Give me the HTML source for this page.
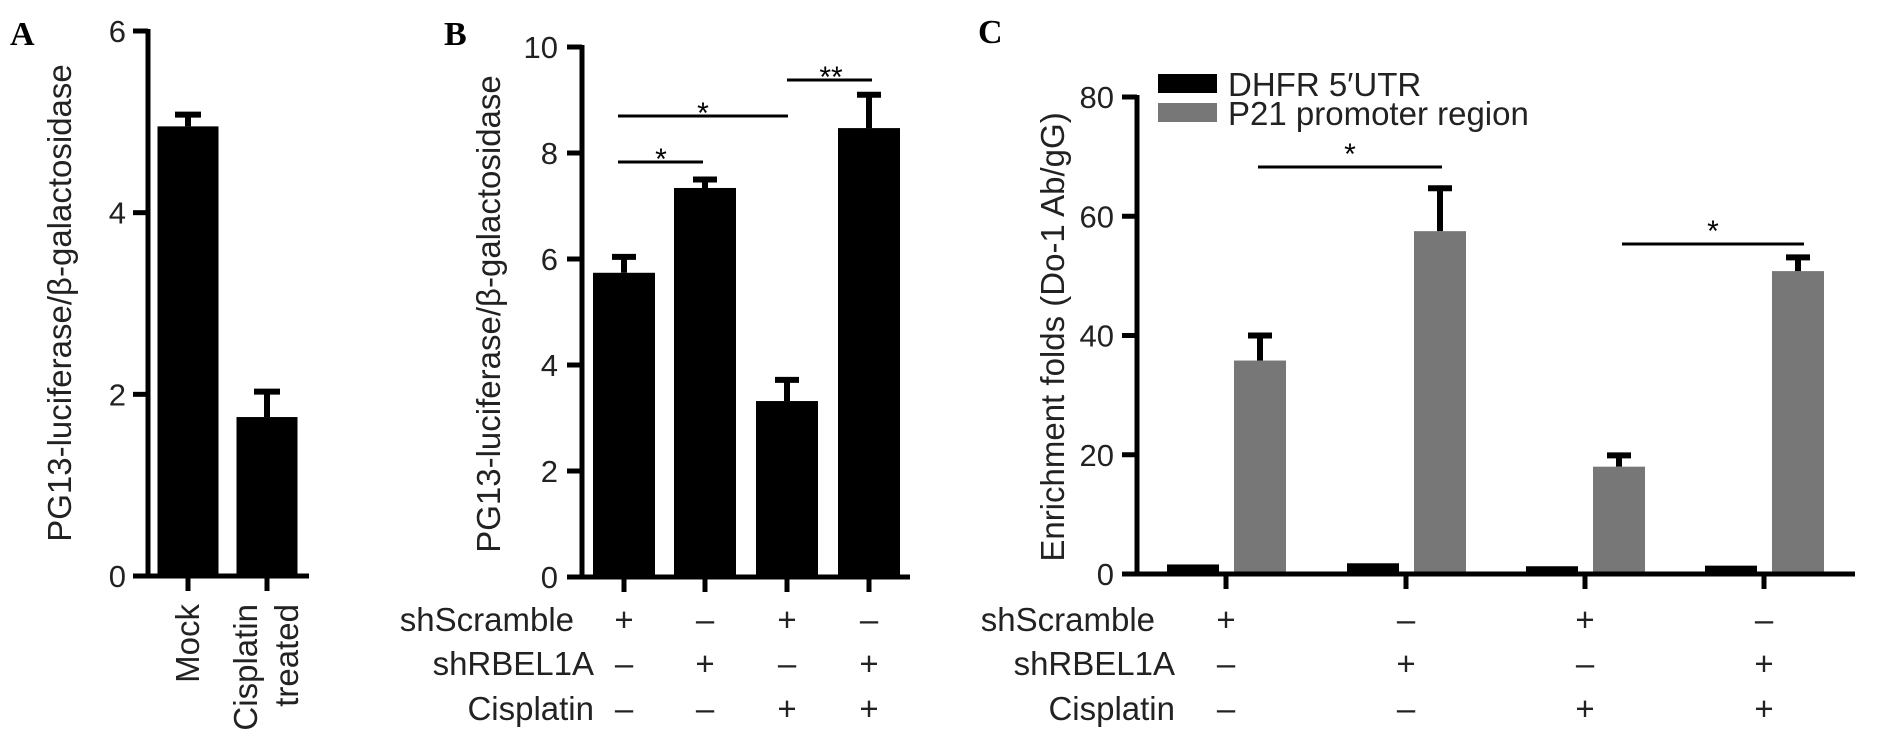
<!DOCTYPE html>
<html><head><meta charset="utf-8"><style>
html,body{margin:0;padding:0;background:#fff;}
svg{display:block;font-family:"Liberation Sans",Arial,sans-serif;}
</style></head><body>
<svg id="fig" width="1890" height="750" viewBox="0 0 1890 750" xmlns="http://www.w3.org/2000/svg"></svg>
<script>
// Panel A data
const aCats = ["Mock", "Cisplatin treated"];
const aVals = [4.95, 1.75];
const aErr = [0.13, 0.28];
const aTicks = [0, 2, 4, 6];
// Panel B data
const bVals = [5.74, 7.34, 3.32, 8.47];
const bErr = [0.3, 0.16, 0.4, 0.63];
const bTicks = [0, 2, 4, 6, 8, 10];
const rowLabels = ["shScramble", "shRBEL1A", "Cisplatin"];
const rowSigns = [["+","\u2013","+","\u2013"],["\u2013","+","\u2013","+"],["\u2013","\u2013","+","+"]];
// Panel C data
const cSeries = ["DHFR 5\u2032UTR", "P21 promoter region"];
const cDhfr = [1.6, 1.8, 1.3, 1.4];
const cP21 = [35.8, 57.5, 18.0, 50.8];
const cP21Err = [4.2, 7.2, 1.9, 2.3];
const cTicks = [0, 20, 40, 60, 80];

const FS = 33;
const svg = document.getElementById('fig');
const NS = 'http://www.w3.org/2000/svg';
function el(tag, attrs, parent) {
  const e = document.createElementNS(NS, tag);
  for (const k in attrs) e.setAttribute(k, attrs[k]);
  (parent || svg).appendChild(e);
  return e;
}
function txt(s, attrs, parent) { const t = el('text', attrs, parent); t.textContent = s; return t; }

// ---------- Panel A ----------
const gA = el('g', {});


const aY = v => 576 - v * (545 / 6);
const aX = [188, 267];
const aBarW = 61;
let t = txt('A', {x: 10, y: 45, 'font-family': '"Liberation Serif",serif', 'font-weight': 'bold', 'font-size': 34}, gA);


aVals.forEach((v, i) => {
  const r = el('rect', {x: aX[i] - aBarW/2, y: aY(v), width: aBarW, height: aY(0) - aY(v), fill: '#000'}, gA);
  
  
  const ey = aY(v + aErr[i]);
  const e = el('path', {d: `M${aX[i]} ${aY(v)} V${ey} M${aX[i]-13} ${ey} H${aX[i]+13}`, stroke: '#000', 'stroke-width': 6, fill: 'none'}, gA);
  
  
  el('line', {x1: aX[i], y1: 576, x2: aX[i], y2: 591, stroke: '#000', 'stroke-width': 5}, gA);
});
el('line', {x1: 148, y1: aY(6) - 2, x2: 148, y2: 578, stroke: '#000', 'stroke-width': 5}, gA);
el('line', {x1: 133, y1: 576, x2: 309, y2: 576, stroke: '#000', 'stroke-width': 5}, gA);
aTicks.forEach(v => {
  el('line', {x1: 133, y1: aY(v), x2: 148, y2: aY(v), stroke: '#000', 'stroke-width': 5}, gA);
  const tl = txt(String(v), {x: 126, y: aY(v) + 11, 'text-anchor': 'end', 'font-size': 31, fill: '#222'}, gA);
  
  
});
t = txt('PG13-luciferase/\u03b2-galactosidase', {transform: 'translate(71,303) rotate(-90)', 'text-anchor': 'middle', 'font-size': FS, fill: '#222'}, gA);


t = txt('Mock', {transform: 'translate(199,604) rotate(-90)', 'text-anchor': 'end', 'font-size': FS, fill: '#222'}, gA);


t = txt('Cisplatin', {transform: 'translate(257,604) rotate(-90)', 'text-anchor': 'end', 'font-size': FS, fill: '#222'}, gA);


t = txt('treated', {transform: 'translate(298,604) rotate(-90)', 'text-anchor': 'end', 'font-size': FS, fill: '#222'}, gA);



// ---------- Panel B ----------
const gB = el('g', {});


const bY = v => 577 - v * 53;
const bX = [624, 705, 787, 869];
const bBarW = 62;
t = txt('B', {x: 444, y: 45, 'font-family': '"Liberation Serif",serif', 'font-weight': 'bold', 'font-size': 34}, gB);


bVals.forEach((v, i) => {
  const r = el('rect', {x: bX[i] - bBarW/2, y: bY(v), width: bBarW, height: bY(0) - bY(v), fill: '#000'}, gB);
  
  
  const ey = bY(v + bErr[i]);
  const e = el('path', {d: `M${bX[i]} ${bY(v)} V${ey} M${bX[i]-12} ${ey} H${bX[i]+12}`, stroke: '#000', 'stroke-width': 6, fill: 'none'}, gB);
  
  
  el('line', {x1: bX[i], y1: 577, x2: bX[i], y2: 592, stroke: '#000', 'stroke-width': 5}, gB);
});
el('line', {x1: 582, y1: bY(10) - 2, x2: 582, y2: 579, stroke: '#000', 'stroke-width': 5}, gB);
el('line', {x1: 567, y1: 577, x2: 910, y2: 577, stroke: '#000', 'stroke-width': 5}, gB);
bTicks.forEach(v => {
  el('line', {x1: 567, y1: bY(v), x2: 582, y2: bY(v), stroke: '#000', 'stroke-width': 5}, gB);
  const tl = txt(String(v), {x: 558, y: bY(v) + 11, 'text-anchor': 'end', 'font-size': 31, fill: '#222'}, gB);
  
  
});
t = txt('PG13-luciferase/\u03b2-galactosidase', {transform: 'translate(500,314) rotate(-90)', 'text-anchor': 'middle', 'font-size': FS, fill: '#222'}, gB);


[[618, 703, 162, 661, 157, '*'], [618, 788, 116, 703, 111, '*'], [787, 872, 80, 831, 75, '**']].forEach(s => {
  const l = el('line', {x1: s[0], y1: s[2], x2: s[1], y2: s[2], stroke: '#000', 'stroke-width': 3}, gB);
  
  
  const st = txt(s[5], {x: s[3], y: s[4] + 12, 'text-anchor': 'middle', 'font-size': 30}, gB);
  
  
});
const rowY = [631, 675, 720];
rowLabels.forEach((lab, r) => {
  const tl = txt(lab, {x: r === 0 ? 574 : 594, y: rowY[r], 'text-anchor': 'end', 'font-size': FS, fill: '#222'}, gB);
  
  
  rowSigns[r].forEach((s, c) => {
    const sg = txt(s, {x: bX[c], y: rowY[r], 'text-anchor': 'middle', 'font-size': FS, fill: '#222'}, gB);
    
    
  });
});

// ---------- Panel C ----------
const gC = el('g', {});


const cY = v => 574 - v * (477 / 80);
const cX = [1226, 1406, 1585, 1764];
const cBarW = 52;
t = txt('C', {x: 978, y: 43, 'font-family': '"Liberation Serif",serif', 'font-weight': 'bold', 'font-size': 34}, gC);


cDhfr.forEach((v, i) => {
  const r = el('rect', {x: cX[i] - 59, y: cY(v), width: cBarW, height: cY(0) - cY(v), fill: '#000'}, gC);
  
  
});
cP21.forEach((v, i) => {
  const x0 = cX[i] + 8;
  const r = el('rect', {x: x0, y: cY(v), width: cBarW, height: cY(0) - cY(v), fill: '#777'}, gC);
  
  
  const cx = x0 + cBarW / 2;
  const ey = cY(v + cP21Err[i]);
  const e = el('path', {d: `M${cx} ${cY(v)} V${ey} M${cx-12} ${ey} H${cx+12}`, stroke: '#000', 'stroke-width': 6, fill: 'none'}, gC);
  
  
  el('line', {x1: cX[i], y1: 574, x2: cX[i], y2: 589, stroke: '#000', 'stroke-width': 5}, gC);
});
el('line', {x1: 1137, y1: cY(80) - 2, x2: 1137, y2: 576, stroke: '#000', 'stroke-width': 5}, gC);
el('line', {x1: 1122, y1: 574, x2: 1855, y2: 574, stroke: '#000', 'stroke-width': 5}, gC);
cTicks.forEach(v => {
  el('line', {x1: 1122, y1: cY(v), x2: 1137, y2: cY(v), stroke: '#000', 'stroke-width': 5}, gC);
  const tl = txt(String(v), {x: 1114, y: cY(v) + 11, 'text-anchor': 'end', 'font-size': 31, fill: '#222'}, gC);
  
  
});
t = txt('Enrichment folds (Do-1 Ab/gG)', {transform: 'translate(1064,337) rotate(-90)', 'text-anchor': 'middle', 'font-size': FS, fill: '#222'}, gC);


const lg = el('g', {}, gC);


[['#000', 74], ['#777', 103]].forEach((s, i) => {
  const r = el('rect', {x: 1158, y: s[1], width: 59, height: 19, fill: s[0]}, lg);
  
  
  const tl = txt(cSeries[i], {x: 1228, y: s[1] + 22, 'font-size': FS, fill: '#222'}, lg);
  
  
});
[[1258, 1442, 167, 1350], [1622, 1804, 244, 1713]].forEach(s => {
  const l = el('line', {x1: s[0], y1: s[2], x2: s[1], y2: s[2], stroke: '#000', 'stroke-width': 3}, gC);
  
  
  const st = txt('*', {x: s[3], y: s[2] - 3, 'text-anchor': 'middle', 'font-size': 30}, gC);
  
  
});
rowLabels.forEach((lab, r) => {
  const tl = txt(lab, {x: r === 0 ? 1155 : 1175, y: rowY[r], 'text-anchor': 'end', 'font-size': FS, fill: '#222'}, gC);
  
  
  rowSigns[r].forEach((s, c) => {
    const sg = txt(s, {x: cX[c], y: rowY[r], 'text-anchor': 'middle', 'font-size': FS, fill: '#222'}, gC);
    
    
  });
});
</script>
</body></html>
